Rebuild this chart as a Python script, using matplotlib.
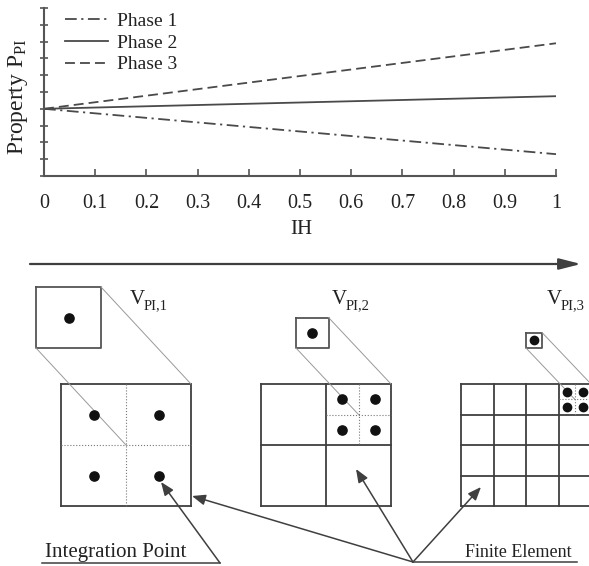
"""Property of each phase versus IH, with the refinement of the integration point volume below"""

import matplotlib.pyplot as plt

plt.rcParams['font.family'] = ['Liberation Serif', 'DejaVu Serif']
plt.rcParams['mathtext.fontset'] = 'custom'
plt.rcParams['mathtext.rm'] = 'Liberation Serif'
plt.rcParams['mathtext.it'] = 'Liberation Serif:italic'

# line chart data
ih = [0, 1]
phase_1 = [4.0, 1.3]
phase_2 = [4.0, 4.75]
phase_3 = [4.0, 7.9]
phase_labels = ['Phase 1', 'Phase 2', 'Phase 3']
ih_ticks = [0, 0.1, 0.2, 0.3, 0.4, 0.5, 0.6, 0.7, 0.8, 0.9, 1]
ih_tick_labels = ['0', '0.1', '0.2', '0.3', '0.4', '0.5', '0.6', '0.7', '0.8', '0.9', '1']
prop_ticks = list(range(11))

# refinement levels: sub-elements per side and subscripts of the IP volume
n_sub = [1, 2, 4]
vol_subscripts = ['PI,1', 'PI,2', 'PI,3']

W, H = 589, 566
DARK = '#3f3f3f'
fig = plt.figure(figsize=(W / 100, H / 100), dpi=100)

# ---- schematic (pixel coordinates, y downwards) ----
axd = fig.add_axes([0, 0, 1, 1])
axd.set_xlim(0, W)
axd.set_ylim(H, 0)
axd.axis('off')

elem_x = [61, 261, 461]
elem_y, elem_w, elem_h = 384, 130, 122
vol_x = [36, 296, 526]
vol_bottom = 348
label_x = [130, 332, 547]
dot_size = [44, 44, 36]


def arrow(ax, start, tip, lw=1.1, scale=10, head='head_length=0.8,head_width=0.32'):
    ax.annotate('', xy=tip, xytext=start,
                arrowprops=dict(arrowstyle='-|>,' + head, color=DARK, lw=lw,
                                mutation_scale=scale, shrinkA=0, shrinkB=0))


# direction of increasing IH
arrow(axd, (30, 264), (581, 264), lw=1.6, scale=12, head='head_length=1.1,head_width=0.28')

for i, n in enumerate(n_sub):
    x0 = elem_x[i]
    cw, ch = elem_w / n, elem_h / n
    # finite element and its sub-elements
    for k in range(n + 1):
        axd.plot([x0 + k * cw] * 2, [elem_y, elem_y + elem_h], color=DARK, lw=1.3)
        axd.plot([x0, x0 + elem_w], [elem_y + k * ch] * 2, color=DARK, lw=1.3)
    # integration points in the top right sub-element
    cx0 = x0 + elem_w - cw
    axd.plot([cx0 + cw / 2] * 2, [elem_y, elem_y + ch], color='#777', lw=0.8, ls=':')
    axd.plot([cx0, cx0 + cw], [elem_y + ch / 2] * 2, color='#777', lw=0.8, ls=':')
    px = [cx0 + cw / 4, cx0 + 3 * cw / 4]
    py = [elem_y + ch / 4, elem_y + 3 * ch / 4]
    axd.scatter([px[0], px[1], px[0], px[1]], [py[0], py[0], py[1], py[1]],
                s=dot_size[i], color='#111', zorder=3)

    # volume of one integration point, enlarged
    vx, vw, vh = vol_x[i], cw / 2, ch / 2
    vy = vol_bottom - vh
    axd.plot([vx, vx + vw, vx + vw, vx, vx], [vy, vy, vy + vh, vy + vh, vy],
             color='#555', lw=1.3)
    axd.scatter([vx + vw / 2], [vy + vh / 2], s=dot_size[i], color='#111', zorder=3)
    axd.plot([vx + vw, x0 + elem_w], [vy, elem_y], color='#999', lw=0.7)
    axd.plot([vx, x0 + elem_w - cw / 2], [vol_bottom, elem_y + ch / 2], color='#999', lw=0.7)
    axd.text(label_x[i], 304, 'V', fontsize=15, color='#222', va='baseline')
    axd.text(label_x[i] + 14, 309, vol_subscripts[i], fontsize=10.5, color='#222', va='baseline')

# callouts
axd.text(45, 557, 'Integration Point', fontsize=15, color='#222', va='baseline')
axd.plot([42, 220], [563, 563], color=DARK, lw=1.1)
arrow(axd, (220, 563), (161, 482))

axd.text(465, 557, 'Finite Element', fontsize=13, color='#222', va='baseline')
axd.plot([413, 577], [562, 562], color=DARK, lw=1.1)
for tip in [(192, 496), (356, 469), (481, 487)]:
    arrow(axd, (413, 562), tip)

# ---- line chart ----
ax = fig.add_axes([44 / W, 1 - 176 / H, (556 - 44) / W, 168 / H])
ax.plot(ih, phase_1, color='#4a4a4a', lw=1.3, ls=(0, (6.5, 2.5, 1.2, 2.5)), label=phase_labels[0])
ax.plot(ih, phase_2, color='#4a4a4a', lw=1.3, ls='-', label=phase_labels[1])
ax.plot(ih, phase_3, color='#4a4a4a', lw=1.3, ls=(0, (5.5, 2.8)), label=phase_labels[2])

ax.set_xlim(0, 1)
ax.set_ylim(0, 10)
ax.set_xticks(ih_ticks)
ax.set_xticklabels(ih_tick_labels, fontsize=14.5, color='#222')
ax.set_yticks(prop_ticks)
ax.set_yticklabels([])
ax.tick_params(axis='x', direction='in', length=5, width=1.2, color='#555', pad=13)
ax.tick_params(axis='y', direction='inout', length=6, width=1.2, color='#555')
for side in ['top', 'right']:
    ax.spines[side].set_visible(False)
for side in ['left', 'bottom']:
    ax.spines[side].set_color('#555')
    ax.spines[side].set_linewidth(1.5)
ax.patch.set_alpha(0)

ax.legend(loc='upper left', bbox_to_anchor=(65 / W, 1 - 12 / H), bbox_transform=fig.transFigure,
          frameon=False, fontsize=14, handlelength=2.2, handletextpad=0.45,
          labelspacing=0.22, borderpad=0, borderaxespad=0, labelcolor='#222')

fig.text(301 / W, 1 - 229 / H, 'IH', fontsize=15, color='#222', ha='center', va='center')
fig.text(18 / W, 1 - 97 / H, r'Property P$_{\mathrm{PI}}$', fontsize=17, color='#222',
         rotation=90, ha='center', va='center')

fig.savefig('out.png', dpi=100)
